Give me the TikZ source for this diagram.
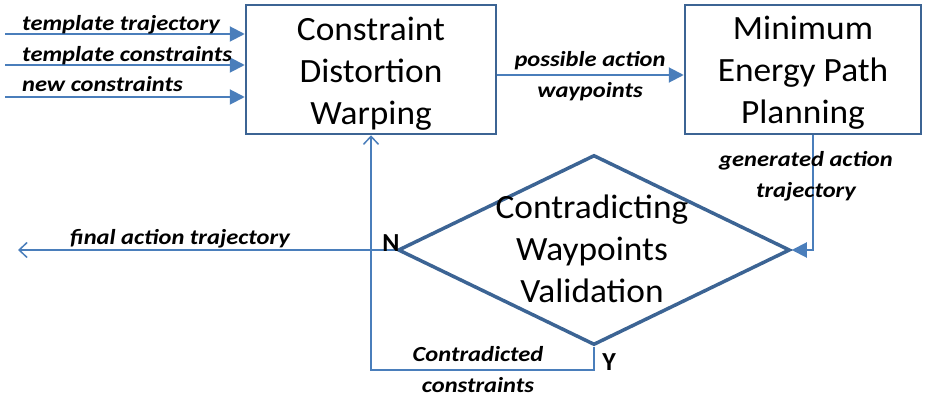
\documentclass[tikz,border=0pt]{standalone}
\usepackage{fontspec}
\setmainfont{Carlito}
\newfontfamily\boxfont{Carlito}[FakeStretch=1.04]
\newfontfamily\labelfont{Carlito}[FakeStretch=1.14]
\usetikzlibrary{arrows.meta,shapes.geometric}
\definecolor{boxblue}{HTML}{3C6494}
\definecolor{lineblue}{HTML}{4A7EBB}

\begin{document}
\begin{tikzpicture}[x=1pt,y=-1pt,
  box/.style={draw=boxblue, line width=2.5pt, fill=white, inner sep=0pt},
  decision/.style={diamond, draw=boxblue, line width=3.5pt, inner sep=0pt,
    minimum width=392pt, minimum height=190pt},
  bigtext/.style={align=center, inner sep=0pt,
    font=\boxfont\fontsize{34}{42}\selectfont},
  flow/.style={draw=lineblue, line width=2pt},
  thinflow/.style={draw=lineblue, line width=1.5pt},
  fillhead/.style={-{Triangle[length=15pt,width=15pt]}},
  openhead/.style={-{Straight Barb[length=8pt,width=15pt,line width=1.5pt]}},
  lbl/.style={inner sep=0pt, align=center,
    font=\labelfont\fontsize{21.5}{31}\selectfont\bfseries\itshape},
  yn/.style={inner sep=0pt, font=\fontsize{26}{30}\selectfont\bfseries},
]
\useasboundingbox (0,0) rectangle (930,398);

% process boxes and their titles
\node[box, minimum width=250pt, minimum height=129pt] (warp) at (371,69.5) {};
\node[box, minimum width=236pt, minimum height=129pt] (plan) at (803,69.5) {};
\node[bigtext] (warptext) at ([yshift=-4pt]warp.center)
  {Constraint\\Distortion\\Warping};
\node[bigtext] (plantext) at ([yshift=-3pt]plan.center)
  {Minimum\\Energy Path\\Planning};

% validation decision
\node[decision] (valid) at (594,250) {};
\node[bigtext] (validtext) at (592,249) {Contradicting\\Waypoints\\Validation};

% inputs into the warping step
\coordinate (in1) at (5,34);
\coordinate (in2) at (5,65);
\coordinate (in3) at (5,97);
\draw[flow,fillhead] (in1) -- (in1 -| warp.west);
\draw[flow,fillhead] (in2) -- (in2 -| warp.west);
\draw[flow,fillhead] (in3) -- (in3 -| warp.west);
\node[lbl, anchor=base west] (l1) at (22,31) {template trajectory};
\node[lbl, anchor=base west] (l2) at (22,62) {template constraints};
\node[lbl, anchor=base west] (l3) at (22,92) {new constraints};

% warping -> planning
\path (warp.east) ++(0,5.5) coordinate (wp);
\draw[flow,fillhead] (wp) -- (wp -| plan.west);
\node[lbl] (lwp) at (590,76) {possible action\\waypoints};

% planning -> validation
\path (plan.south) ++(10,0) coordinate (gp);
\draw[flow,fillhead] (gp) |- (valid.east);
\node[lbl] (lgen) at (806,176) {generated action\\trajectory};

% validation N -> output
\coordinate (out) at (18,250);
\draw[flow,openhead] (valid.west) -- (out);
\node[lbl, anchor=base west] (lfin) at (70,245) {final action trajectory};

% validation Y -> back to warping
\coordinate (fbc) at (594,370);
\draw[thinflow,openhead] (valid.south) -- (fbc) -| (warp.south);
\node[lbl] (lcon) at (478,370) {Contradicted\\constraints};

\node[yn] (no) at (391,243) {N};
\node[yn] (yes) at (609,362) {Y};
\end{tikzpicture}
\end{document}
